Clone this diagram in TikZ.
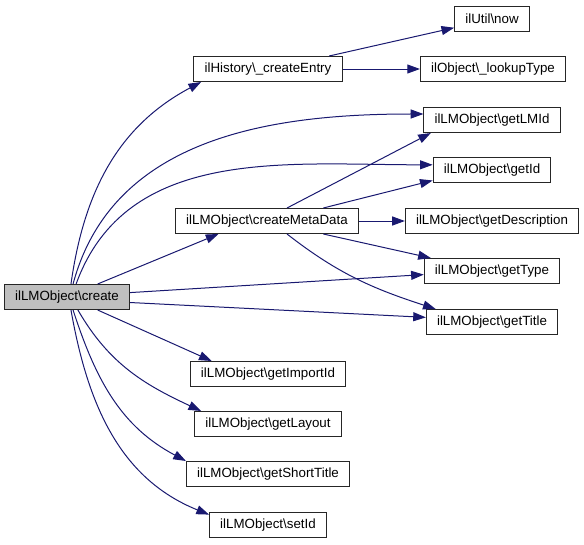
\documentclass[tikz,border=0pt]{standalone}
\usepackage{fontspec}
\setmainfont{Liberation Sans}
\usetikzlibrary{arrows.meta}
\definecolor{edgeblue}{HTML}{191970}
\newcommand{\bs}{\textbackslash}

\begin{document}
\begin{tikzpicture}[x=0.75pt,y=0.75pt,
  fn/.style={draw=black!85,line width=0.75pt,fill=white,minimum height=18.75pt,inner xsep=8pt,inner ysep=0pt,font=\fontsize{10pt}{12pt}\selectfont},
  call/.style={edgeblue,line width=0.75pt,-{Triangle[length=9.5pt,width=6.75pt]}}]
 \useasboundingbox (0,0) rectangle (584,544);
 % nodes
 \node[fn,fill=black!25] (create) at (67,247) {ilLMObject\bs create};
 \node[fn] (hist) at (268,475) {ilHistory\bs\_createEntry};
 \node[fn] (now) at (492,525) {ilUtil\bs now};
 \node[fn] (lookup) at (493,475) {ilObject\bs\_lookupType};
 \node[fn] (lmid) at (492,424) {ilLMObject\bs getLMId};
 \node[fn] (getid) at (492,374) {ilLMObject\bs getId};
 \node[fn] (meta) at (267,323) {ilLMObject\bs createMetaData};
 \node[fn] (desc) at (492,323) {ilLMObject\bs getDescription};
 \node[fn] (type) at (492,273) {ilLMObject\bs getType};
 \node[fn] (title) at (492,222) {ilLMObject\bs getTitle};
 \node[fn] (importid) at (268,170) {ilLMObject\bs getImportId};
 \node[fn] (layout) at (268,120) {ilLMObject\bs getLayout};
 \node[fn] (short) at (268,70) {ilLMObject\bs getShortTitle};
 \node[fn] (setid) at (268,19) {ilLMObject\bs setId};
 % calls from create
 \draw[call] (create.73) to[out=82,in=208] (hist.191);
 \draw[call] (create.65) to[out=75,in=180] (lmid.175);
 \draw[call] (create.55) to[out=70,in=180] (getid.175);
 \draw[call] (create.23) -- (meta.195);
 \draw[call] (create.4) -- (type.183);
 \draw[call] (create.-5) -- (title.176);
 \draw[call] (create.-23) -- (importid.167);
 \draw[call] (create.-50) to[out=-60,in=155] (layout.169);
 \draw[call] (create.-65) to[out=-72,in=152] (short.171);
 \draw[call] (create.-73) to[out=-80,in=158] (setid.170);
 % calls from createEntry and createMetaData
 \draw[call] (hist.12) -- (now.193);
 \draw[call] (hist) -- (lookup);
 \draw[call] (meta.33) -- (lmid.192);
 \draw[call] (meta.13) -- (getid.190);
 \draw[call] (meta) -- (desc);
 \draw[call] (meta.-13) -- (type.168);
 \draw[call] (meta.-33) to[out=-38,in=162] (title.167);
\end{tikzpicture}
\end{document}
